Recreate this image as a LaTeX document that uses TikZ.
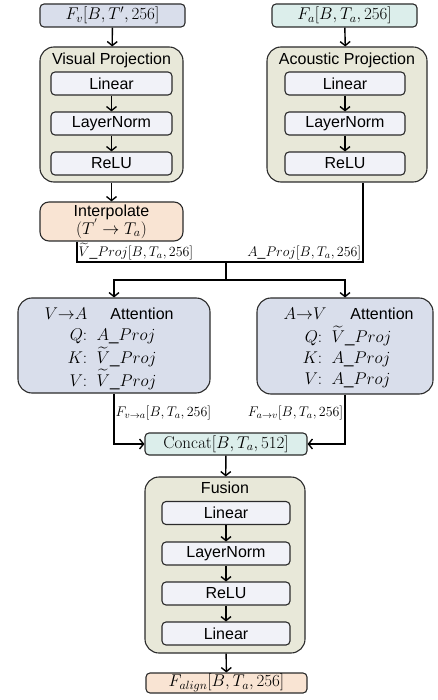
\documentclass[tikz,border=0pt]{standalone}
\usepackage{fix-cm}
\usepackage[no-math]{fontspec}
\setmainfont{Liberation Sans}
\usepackage{amsmath}
\usetikzlibrary{arrows.meta}
\definecolor{cblue}{HTML}{D9DEEB}
\definecolor{ccyan}{HTML}{DCEEEB}
\definecolor{cpeach}{HTML}{F9E4D3}
\definecolor{colive}{HTML}{E8E8D9}
\definecolor{cin}{HTML}{F1F2F8}
\definecolor{cline}{HTML}{2B2B2B}

\begin{document}
\begin{tikzpicture}[x=1pt, y=-1pt,
	box/.style={draw=cline, line width=1.1pt, rounded corners=4pt, inner sep=0pt, font=\fontsize{16}{19}\selectfont},
	mbox/.style={box, font=\fontsize{17}{21}\selectfont},
	group/.style={draw=cline, line width=1.1pt, fill=colive, rounded corners=14pt, inner sep=0pt},
	layer/.style={box, fill=cin, minimum height=23pt},
	lbl/.style={inner sep=1pt, font=\fontsize{14}{16}\selectfont},
	arr/.style={-{Straight Barb[length=4pt, width=10pt]}, line width=1.4pt},
	con/.style={line width=1.4pt}]
	\useasboundingbox (0,0) rectangle (437,700);
	
	% inputs
	\node[mbox, fill=cblue, minimum width=145pt, minimum height=23pt] (fv) at (112.5,15.5) {$F_v[B,T',256]$};
	\node[mbox, fill=ccyan, minimum width=145pt, minimum height=23pt] (fa) at (344.5,15.5) {$F_a[B,T_a,256]$};
	
	% projections
	\node[group, minimum width=143pt, minimum height=135pt] (vproj) at (111.5,114.5) {};
	\node[box, draw=none] (vtitle) at (111.5,60) {Visual Projection};
	\node[layer, minimum width=121pt] (vlin) at (111.5,83.5) {Linear};
	\node[layer, minimum width=121pt] (vln) at (111.5,123.5) {LayerNorm};
	\node[layer, minimum width=121pt] (vrelu) at (111.5,163.5) {ReLU};
	
	\node[group, minimum width=160pt, minimum height=135pt] (aproj) at (347,114.5) {};
	\node[box, draw=none] (atitle) at (347,60) {Acoustic Projection};
	\node[layer, minimum width=120pt] (alin) at (345,83.5) {Linear};
	\node[layer, minimum width=120pt] (aln) at (345,123.5) {LayerNorm};
	\node[layer, minimum width=120pt] (arelu) at (345,163.5) {ReLU};
	
	\node[box, fill=cpeach, rounded corners=9pt, minimum width=143pt, minimum height=39pt, align=center] (interp) at (111.5,221.5) {Interpolate\\[-1pt]{\fontsize{17}{20}\selectfont$(T^{'}\rightarrow T_a)$}};
	
	\draw[arr] (fv) -- (vproj);
	\draw[arr] (vlin) -- (vln);
	\draw[arr] (vln) -- (vrelu);
	\draw[arr] (vproj) -- (interp);
	\draw[arr] (fa) -- (aproj);
	\draw[arr] (alin) -- (aln);
	\draw[arr] (aln) -- (arelu);
	
	% join and split
	\coordinate (jl) at (77,262);
	\coordinate (jr) at (363,262);
	\coordinate (jm) at (226,262);
	\coordinate (sp) at (226,280);
	\draw[con] (interp.south -| jl) -- (jl) node[lbl, above right] (vplbl) {$\widetilde{V}\_Proj[B,T_a,256]$} -- (jr) node[lbl, above left] (aplbl) {$A\_Proj[B,T_a,256]$} -- (aproj.south -| jr);
	\draw[con] (jm) -- (sp);
	
	% attention
	\node[box, fill=cblue, rounded corners=14pt, minimum width=192pt, minimum height=95pt] (va) at (114,345.5) {};
	\node[box, draw=none] (vatitle) at (142,314) {Attention};
	\node[mbox, draw=none] (vadir) at (66,314) {$V{\rightarrow}A$};
	\node[mbox, draw=none, anchor=north] (vaqkv) at (112,325) {$\begin{array}{@{}r@{\;\;}l@{}} Q{:} & A\_Proj\\ K{:} & \widetilde{V}\_Proj\\ V{:} & \widetilde{V}\_Proj\end{array}$};
	
	\node[box, fill=cblue, rounded corners=14pt, minimum width=176pt, minimum height=96pt] (av) at (345,346) {};
	\node[box, draw=none] (avtitle) at (382,314) {Attention};
	\node[mbox, draw=none] (avdir) at (305,314) {$A{\rightarrow}V$};
	\node[mbox, draw=none, anchor=north] (avqkv) at (347,325) {$\begin{array}{@{}r@{\;\;}l@{}} Q{:} & \widetilde{V}\_Proj\\ K{:} & A\_Proj\\ V{:} & A\_Proj\end{array}$};
	
	\draw[arr] (sp) -| (va);
	\draw[arr] (sp) -| (av);
	
	% fusion
	\node[mbox, fill=ccyan, minimum width=162pt, minimum height=22pt] (concat) at (226,444) {$\mathrm{Concat}[B,T_a,512]$};
	\draw[arr] (va.south) |- node[lbl, right, pos=0.19] (valbl) {$F_{v\rightarrow a}[B,T_a,256]$} (concat);
	\draw[arr] (av.south) |- node[lbl, left, pos=0.19] (avlbl) {$F_{a\rightarrow v}[B,T_a,256]$} (concat);
	
	\node[group, minimum width=160pt, minimum height=176pt] (fusion) at (225,565) {};
	\node[box, draw=none] (ftitle) at (225,488) {Fusion};
	\node[layer, minimum width=128pt] (flin) at (226,513) {Linear};
	\node[layer, minimum width=128pt] (fln) at (226,553.5) {LayerNorm};
	\node[layer, minimum width=128pt] (frelu) at (226,593.5) {ReLU};
	\node[layer, minimum width=128pt] (flin2) at (226,633.5) {Linear};
	\node[mbox, fill=cpeach, minimum width=161pt, minimum height=20pt] (falign) at (226.5,683) {$F_{align}[B,T_a,256]$};
	
	\draw[arr] (concat) -- (fusion);
	\draw[arr] (flin) -- (fln);
	\draw[arr] (fln) -- (frelu);
	\draw[arr] (frelu) -- (flin2);
	\draw[arr] (fusion) -- (falign);
\end{tikzpicture}
\end{document}
